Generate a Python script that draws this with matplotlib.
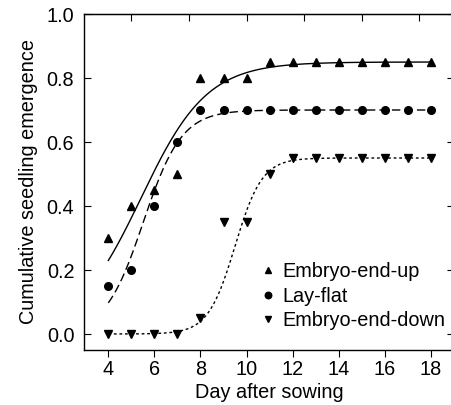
import numpy as np
import matplotlib
matplotlib.use("Agg")
import matplotlib.pyplot as plt

plt.rcParams["font.family"] = ["Liberation Sans", "DejaVu Sans"]

days = [4, 5, 6, 7, 8, 9, 10, 11, 12, 13, 14, 15, 16, 17, 18]
up = [0.30, 0.40, 0.45, 0.50, 0.80, 0.80, 0.80, 0.85, 0.85, 0.85, 0.85, 0.85, 0.85, 0.85, 0.85]
flat = [0.15, 0.20, 0.40, 0.60, 0.70, 0.70, 0.70, 0.70, 0.70, 0.70, 0.70, 0.70, 0.70, 0.70, 0.70]
down = [0.0, 0.0, 0.0, 0.0, 0.05, 0.35, 0.35, 0.50, 0.55, 0.55, 0.55, 0.55, 0.55, 0.55, 0.55]

# logistic fits: (max, rate, midpoint)
fit_up = (0.85, 0.70, 5.42)
fit_flat = (0.70, 1.20, 5.52)
fit_down = (0.55, 1.70, 9.50)

labels = ["Embryo-end-up", "Lay-flat", "Embryo-end-down"]


def logistic(t, a, k, x0):
    return a / (1 + np.exp(-k * (t - x0)))


fs = 14.3
fig = plt.figure(figsize=(4.52, 4.05), dpi=100)
ax = fig.add_axes([84 / 452, 55 / 405, 370 / 452, 336 / 405])

t = np.linspace(4, 18, 400)
ax.plot(t, logistic(t, *fit_up), "k-", lw=1.0)
ax.plot(t, logistic(t, *fit_flat), "k", lw=1.0, dashes=(6, 3))
ax.plot(t, logistic(t, *fit_down), "k", lw=1.0, dashes=(2, 2))

ax.plot(days, up, "k^", ms=5.5, ls="none", label=labels[0])
ax.plot(days, flat, "ko", ms=5.5, ls="none", label=labels[1])
ax.plot(days, down, "kv", ms=5.5, ls="none", label=labels[2])

ax.set_xlim(2.945, 19.0)
ax.set_ylim(-0.05, 1.0)
ax.set_xticks(range(4, 19, 2))
ax.set_yticks(np.arange(0, 1.01, 0.2))
ax.set_yticklabels(["%.1f" % v for v in np.arange(0, 1.01, 0.2)])

ax.tick_params(axis="x", which="both", direction="out", length=5, width=0.8,
               labelsize=fs, pad=2)
ax.tick_params(axis="y", which="both", direction="in", length=5, width=0.8,
               right=True, labelsize=fs, pad=7)
ax.secondary_xaxis("top").tick_params(direction="in", length=5, width=0.8,
                                      labeltop=False)
for s in ax.spines.values():
    s.set_linewidth(1.0)

ax.set_xlabel("Day after sowing", fontsize=fs, labelpad=3)
ax.set_ylabel("Cumulative seedling emergence", fontsize=fs, labelpad=6)

ax.legend(loc="upper left", bbox_to_anchor=(0.455, 0.285), frameon=False,
          fontsize=fs, handlelength=0.8, handletextpad=0.3, labelspacing=0.28,
          markerscale=0.85, borderaxespad=0)

fig.savefig("out.png", dpi=100)
